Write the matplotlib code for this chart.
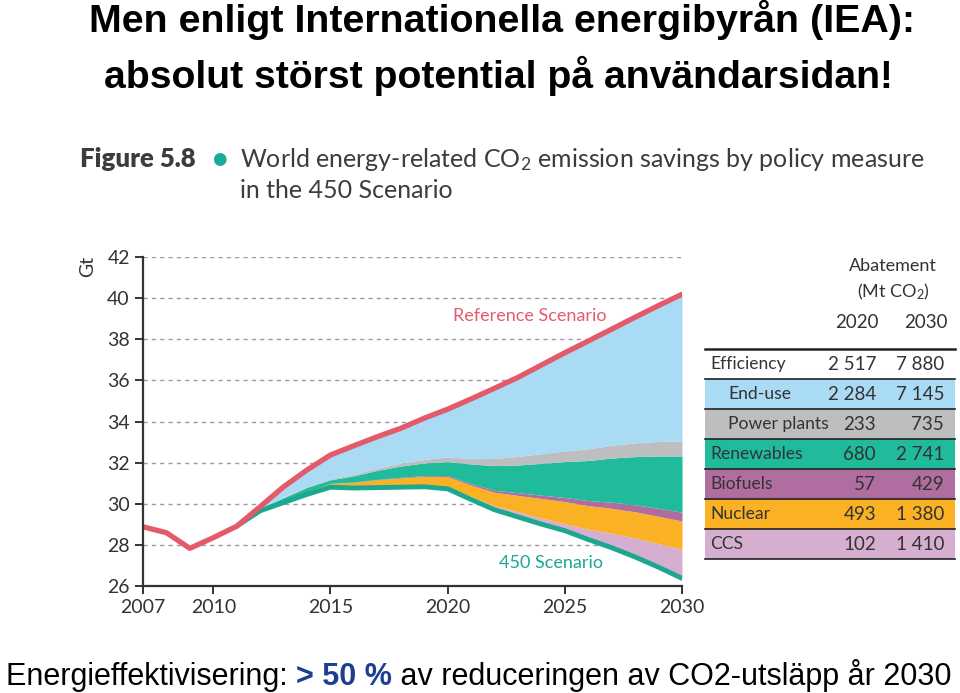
import matplotlib
matplotlib.use('Agg')
import matplotlib.pyplot as plt
import matplotlib.patches as patches

# ---- data (Gt CO2) ----
years = list(range(2007, 2031))
reference = [28.87, 28.58, 27.82, 28.34, 28.9, 29.85, 30.82, 31.64, 32.37, 32.82, 33.26, 33.67,
             34.16, 34.6, 35.1, 35.62, 36.15, 36.75, 37.35, 37.92, 38.5, 39.08, 39.65, 40.2]
scenario_450 = [28.87, 28.58, 27.82, 28.34, 28.9, 29.65, 30.05, 30.45, 30.8, 30.76, 30.78, 30.8,
                30.82, 30.72, 30.2, 29.7, 29.35, 29.0, 28.68, 28.25, 27.85, 27.4, 26.9, 26.36]
ccs = [0] * 13 + [0.10, 0.15, 0.2, 0.25, 0.3, 0.34, 0.5, 0.7, 0.92, 1.15, 1.41]
nuclear = [0] * 5 + [0.02, 0.06, 0.12, 0.18, 0.28, 0.38, 0.45, 0.5, 0.49, 0.55, 0.65, 0.8, 0.95,
                     1.08, 1.15, 1.22, 1.28, 1.33, 1.38]
biofuels = [0] * 8 + [0.01, 0.01, 0.02, 0.03, 0.04, 0.057, 0.08, 0.1, 0.13, 0.16, 0.2, 0.25, 0.3,
                      0.34, 0.39, 0.43]
renewables = [0] * 5 + [0.1, 0.18, 0.22, 0.17, 0.3, 0.44, 0.55, 0.62, 0.68, 0.95, 1.2, 1.35, 1.55,
                        1.75, 1.95, 2.15, 2.35, 2.55, 2.74]
power_plants = [0] * 5 + [0.01, 0.03, 0.04, 0.05, 0.08, 0.11, 0.14, 0.17, 0.23, 0.26, 0.35, 0.42,
                          0.47, 0.52, 0.57, 0.62, 0.67, 0.71, 0.735]

xticks = [2007, 2010, 2015, 2020, 2025, 2030]
yticks = list(range(26, 43, 2))

table_labels = ['Efficiency', 'End-use', 'Power plants', 'Renewables', 'Biofuels', 'Nuclear', 'CCS']
table_2020 = ['2 517', '2 284', '233', '680', '57', '493', '102']
table_2030 = ['7 880', '7 145', '735', '2 741', '429', '1 380', '1 410']
table_indent = [False, True, True, False, False, False, False]

c_ref = '#e35a6b'
c_450 = '#1ba88e'
c_enduse = '#a9dbf4'
c_power = '#bdbec0'
c_renew = '#1fbb9b'
c_bio = '#b06ea0'
c_nuc = '#fbb124'
c_ccs = '#d5aed0'
table_colors = ['white', c_enduse, c_power, c_renew, c_bio, c_nuc, c_ccs]

iea_font = 'Lato'
plt.rcParams['mathtext.fontset'] = 'custom'
plt.rcParams['mathtext.rm'] = iea_font
plt.rcParams['mathtext.it'] = iea_font

W, H = 960, 693
fig = plt.figure(figsize=(9.6, 6.93), dpi=100)


def px(x, y):
    return x / W, 1 - y / H


# ---- slide titles ----
fig.text(*px(502, 32), 'Men enligt Internationella energibyrån (IEA):', ha='center', va='baseline',
         fontsize=28.4, fontweight='bold', family='Liberation Sans')
fig.text(*px(498, 88), 'absolut störst potential på användarsidan!', ha='center', va='baseline',
         fontsize=28.2, fontweight='bold', family='Liberation Sans')

# ---- figure caption ----
cap_c = '#3c3c3c'
fig.text(*px(80, 167), 'Figure 5.8', ha='left', va='baseline', fontsize=18.5, fontweight='heavy',
         family=iea_font, color=cap_c)
fig.text(*px(219, 159), '●', ha='center', va='center', fontsize=12, color='#1aa99a', family='DejaVu Sans')
fig.text(*px(240, 167), 'World energy-related CO$_2$ emission savings by policy measure', ha='left',
         va='baseline', fontsize=18, family=iea_font, color=cap_c)
fig.text(*px(240, 198), 'in the 450 Scenario', ha='left', va='baseline', fontsize=18,
         family=iea_font, color=cap_c)

# ---- chart ----
ax = fig.add_axes([143 / W, 1 - 585.7 / H, (682 - 143) / W, (585.7 - 257.3) / H])
base = scenario_450
layers = [(ccs, c_ccs), (nuclear, c_nuc), (biofuels, c_bio), (renewables, c_renew),
          (power_plants, c_power)]
for vals, col in layers:
    top = [b + v for b, v in zip(base, vals)]
    ax.fill_between(years, base, top, color=col, lw=0, zorder=2)
    base = top
ax.fill_between(years, base, reference, color=c_enduse, lw=0, zorder=2)

ax.plot(years[4:], scenario_450[4:], color=c_450, lw=3.5, zorder=3, solid_capstyle='round')
ax.plot(years, reference, color=c_ref, lw=3.8, zorder=4, solid_capstyle='round')

for y in yticks[1:]:
    ax.axhline(y, color='#9a9a9a', lw=1, ls=(0, (3, 3)), zorder=1)

ax.set_xlim(2007, 2030)
ax.set_ylim(26, 42)
ax.set_xticks(xticks)
ax.set_yticks(yticks)
for s in ['top', 'right']:
    ax.spines[s].set_visible(False)
for s in ['left', 'bottom']:
    ax.spines[s].set_color('#333333')
    ax.spines[s].set_linewidth(1.6)
    ax.spines[s].set_zorder(5)
ax.tick_params(direction='out', length=6, width=1.4, color='#333333', labelcolor='#333333',
               labelsize=14)
for lab in ax.get_xticklabels() + ax.get_yticklabels():
    lab.set_family(iea_font)

ax.text(2023.5, 39.15, 'Reference Scenario', color=c_ref, fontsize=13, ha='center', va='center',
        family=iea_font)
ax.text(2024.4, 27.1, '450 Scenario', color=c_450, fontsize=13, ha='center', va='center',
        family=iea_font)
fig.text(*px(88, 266), 'Gt', rotation=90, ha='center', va='center', fontsize=14,
         color='#333333', family=iea_font)

# ---- table ----
tc = '#333333'
fig.text(*px(893, 266), 'Abatement', ha='center', va='center', fontsize=13, color=tc, family=iea_font)
fig.text(*px(893, 292), '(Mt CO$_2$)', ha='center', va='center', fontsize=13, color=tc, family=iea_font)
fig.text(*px(857, 322), '2020', ha='center', va='center', fontsize=13.5, color=tc, family=iea_font)
fig.text(*px(926, 322), '2030', ha='center', va='center', fontsize=13.5, color=tc, family=iea_font)

row_top = 349
row_h = 30
x0, x1 = 705, 955
for i, lab in enumerate(table_labels):
    y0 = row_top + i * row_h
    fig.patches.append(patches.Rectangle(px(x0, y0 + row_h), (x1 - x0) / W, row_h / H,
                                         transform=fig.transFigure, color=table_colors[i], lw=0))
    yc = y0 + row_h / 2
    fig.text(*px(728 if table_indent[i] else 710, yc), lab, ha='left', va='center', fontsize=12.6,
             color=tc, family=iea_font)
    fig.text(*px(876, yc), table_2020[i], ha='right', va='center', fontsize=13.5, color=tc,
             family=iea_font)
    fig.text(*px(944, yc), table_2030[i], ha='right', va='center', fontsize=13.5, color=tc,
             family=iea_font)
for i in range(len(table_labels) + 1):
    y = row_top + i * row_h
    lw = 1.8 if i == 0 else 1.2
    fig.lines.append(plt.Line2D([x0 / W, x1 / W], [1 - y / H, 1 - y / H], transform=fig.transFigure,
                                color='#222222', lw=lw))

# ---- bottom statement ----
renderer = fig.canvas.get_renderer()
t1 = fig.text(*px(6, 685), 'Energieffektivisering: ', ha='left', va='baseline', fontsize=22,
              family='Liberation Sans')
bb = t1.get_window_extent(renderer)
t2 = fig.text(bb.x1 / W, 1 - 685 / H, '> 50 %', ha='left', va='baseline', fontsize=22,
              fontweight='bold', color='#1d3f91', family='Liberation Sans')
bb = t2.get_window_extent(renderer)
fig.text(bb.x1 / W, 1 - 685 / H, ' av reduceringen av CO2-utsläpp år 2030', ha='left', va='baseline',
         fontsize=22, family='Liberation Sans')

fig.savefig('out.png', dpi=100)
